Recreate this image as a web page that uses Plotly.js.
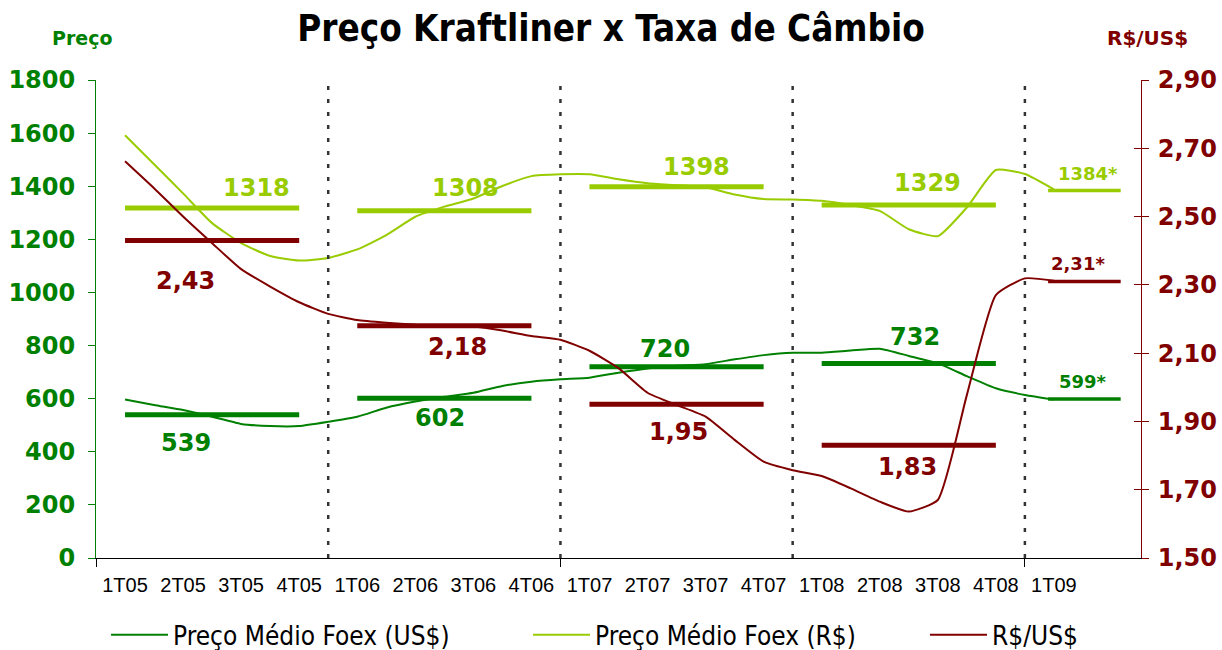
<!DOCTYPE html>
<html><head><meta charset="utf-8">
<script src="https://cdn.plot.ly/plotly-3.0.1.min.js"></script>
<style>html,body{margin:0;padding:0;background:#fff}#chart{width:1222px;height:650px}</style>
</head><body><div id="chart"></div>
<script>
// ---- data ----
const trimestres = ['1T05','2T05','3T05','4T05','1T06','2T06','3T06','4T06','1T07','2T07','3T07','4T07','1T08','2T08','3T08','4T08','1T09'];
// half-quarter readings from 1T05 to 1T09
const precoUS = [597,576,557,532,505,497,497,513, 532,566,589,607,622,648,664,673, 679,698,714,724,730,748,764,773, 773,781,788,761,733,685,639,614, 597];
const precoRS = [1592,1483,1373,1261,1186,1137,1120,1130, 1162,1216,1285,1323,1354,1401,1438,1445, 1445,1426,1411,1404,1396,1369,1352,1350, 1345,1329,1307,1238,1212,1320,1461,1446, 1388];
const cambio  = [2.662,2.583,2.500,2.422,2.346,2.295,2.249,2.215, 2.197,2.189,2.183,2.180,2.178,2.166,2.150,2.139, 2.107,2.056,1.984,1.948,1.914,1.846,1.782,1.757, 1.740,1.704,1.665,1.636,1.670,1.977,2.270,2.319, 2.312];
const anos = ['2005','2006','2007','2008','2009'];
const mediaUS = [539,602,720,732,599];
const mediaRS = [1318,1308,1398,1329,1384];
const mediaCambio = [2.43,2.18,1.95,1.83,2.31];
const sufixo = ['','','','','*'];
const leftTicks = [0,200,400,600,800,1000,1200,1400,1600,1800];
const rightTicks = [1.5,1.7,1.9,2.1,2.3,2.5,2.7,2.9];

// ---- styles / positions ----
const VERDE='#008000', VERDE_CLARO='#99CC00', VINHO='#800000';
const posicoes = precoUS.map((_, i) => i / 2);
const segIni = [0,4,8,12,15.9], segFim = [3,7,11,15,17.15];
const divisorias = [3.5,7.5,11.5,15.5];
const lblX = {us:[1.05,5.42,9.30,13.61,16.50], rs:[2.26,5.86,9.85,13.83,16.59], fx:[1.05,5.72,9.54,13.47,16.41]};
const lblShift = {us:[-28,-20,18,27,17], rs:[20,23,20,22,17], fx:[-41,-21,-28,-22,18]};
const FONT = 'DejaVu Sans';
const COND = 'DejaVu Sans Condensed, DejaVu Sans';
const LINE = {shape:'spline', smoothing:0.5, width:2};

const traces = [
  {x:posicoes, y:precoUS, name:'Preço Médio Foex (US$)', mode:'lines', line:Object.assign({color:VERDE},LINE), yaxis:'y', legend:'legend'},
  {x:posicoes, y:precoRS, name:'Preço Médio Foex (R$)', mode:'lines', line:Object.assign({color:VERDE_CLARO},LINE), yaxis:'y', legend:'legend2'},
  {x:posicoes, y:cambio, name:'R$/US$', mode:'lines', line:Object.assign({color:VINHO},LINE), yaxis:'y2', legend:'legend3'}
];
function seg(vals, color, axis){
  vals.forEach((v,i)=>{
    traces.push({x:[segIni[i],segFim[i]], y:[v,v], mode:'lines', showlegend:false, hoverinfo:'skip',
      line:{color:color,width:i===4?3.5:5}, yaxis:axis});
  });
}
seg(mediaRS, VERDE_CLARO, 'y');
seg(mediaUS, VERDE, 'y');
seg(mediaCambio, VINHO, 'y2');

const fmt = (v, dec) => v.toFixed(dec).replace('.', ',');
const annotations = [];
function labels(vals, key, color, axis, dec){
  vals.forEach((v,i)=>{
    annotations.push({x:lblX[key][i], y:v, xref:'x', yref:axis, yshift:lblShift[key][i], showarrow:false,
      xanchor:'center', yanchor:'middle',
      text:fmt(v,dec)+sufixo[i], font:{family:FONT, size:i===4?18:24, color:color, weight:700}});
  });
}
labels(mediaRS,'rs',VERDE_CLARO,'y',0);
labels(mediaUS,'us',VERDE,'y',0);
labels(mediaCambio,'fx',VINHO,'y2',2);
annotations.push({xref:'paper', yref:'paper', x:-0.013, y:1.088, xanchor:'center', yanchor:'middle', showarrow:false, text:'Preço', font:{family:FONT,size:19,color:VERDE,weight:700}});
annotations.push({xref:'paper', yref:'paper', x:1.006, y:1.088, xanchor:'center', yanchor:'middle', showarrow:false, text:'R$/US$', font:{family:FONT,size:20,color:VINHO,weight:700}});

const shapes = divisorias.map(d=>({type:'line', xref:'x', yref:'paper', x0:d, x1:d, y0:0, y1:1, line:{color:'#333', width:2.5, dash:'4px,9px'}}));

const legendBase = (x) => ({orientation:'h', x:x, xanchor:'left', y:-0.161, yanchor:'middle', itemwidth:57,
  font:{family:COND,size:26,color:'#000'}, bgcolor:'rgba(0,0,0,0)'});

const layout = {
  width:1222, height:650,
  margin:{l:96, r:81, t:80, b:92, autoexpand:false},
  paper_bgcolor:'#fff', plot_bgcolor:'#fff',
  separators:',.',
  title:{text:'Preço Kraftliner x Taxa de Câmbio', x:0.5, xanchor:'center', y:0.957, yanchor:'middle',
    font:{family:COND, size:36.5, color:'#000', weight:700}},
  showlegend:true,
  legend:legendBase(0.0096),
  legend2:legendBase(0.4134),
  legend3:legendBase(0.7933),
  xaxis:{range:[-0.5,17.5], tickmode:'array', tickvals:trimestres.map((_,i)=>i), ticktext:trimestres, ticks:'',
    showline:true, linecolor:'#000', linewidth:1, showgrid:false, zeroline:false, ticklabelstandoff:9,
    tickfont:{family:'Liberation Sans', size:20, color:'#000'},
    minor:{tickmode:'array', tickvals:[-0.5,7.5,15.5], ticks:'outside', ticklen:8, tickcolor:'#000', showgrid:false}},
  yaxis:{range:[0,1800], tickmode:'array', tickvals:leftTicks, ticks:'outside', ticklen:7, tickcolor:VERDE,
    showline:true, linecolor:VERDE, linewidth:1, showgrid:false, zeroline:false, ticklabelstandoff:8,
    tickfont:{family:FONT, size:24, color:VERDE, weight:700}},
  yaxis2:{range:[1.5,2.9], overlaying:'y', side:'right', tickmode:'array', tickvals:rightTicks, tickformat:'.2f',
    ticks:'outside', ticklen:7, tickcolor:VINHO, showline:true, linecolor:VINHO, linewidth:1, showgrid:false, zeroline:false,
    ticklabelstandoff:4, tickfont:{family:FONT, size:24, color:VINHO, weight:700}},
  yaxis3:{range:[1.5,2.9], overlaying:'y', side:'right', tickmode:'array', tickvals:rightTicks, ticks:'inside', ticklen:7,
    tickcolor:VINHO, showticklabels:false, showline:false, showgrid:false, zeroline:false},
  shapes:shapes,
  annotations:annotations
};
traces.push({x:[0], y:[2], yaxis:'y3', mode:'markers', marker:{opacity:0}, showlegend:false, hoverinfo:'skip'});
Plotly.newPlot('chart', traces, layout, {displayModeBar:false, responsive:false});
</script></body></html>
